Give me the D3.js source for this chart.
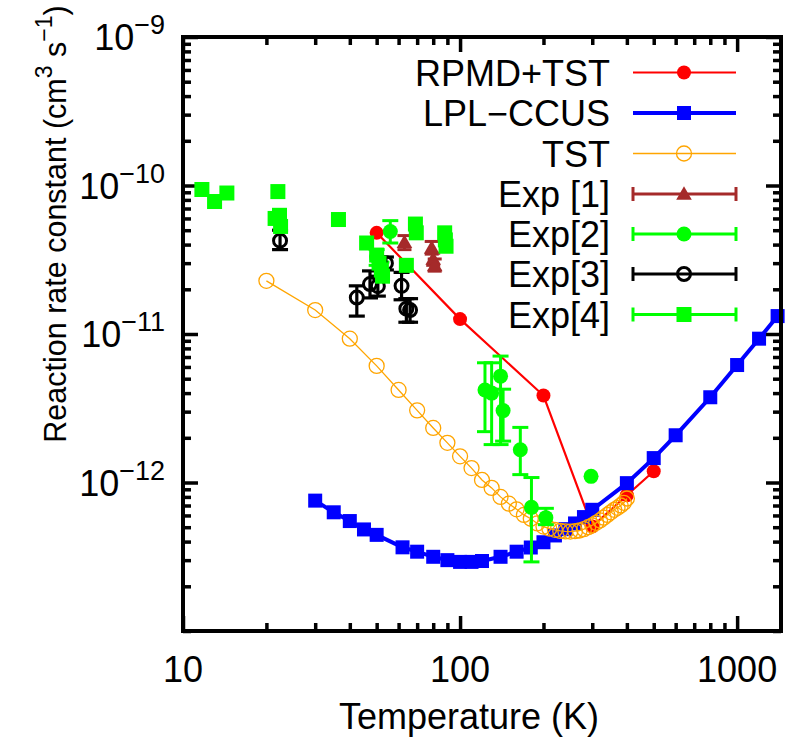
<!DOCTYPE html>
<html><head><meta charset="utf-8">
<script src="https://cdn.jsdelivr.net/npm/d3@7"></script>
<style>body{margin:0;background:#fff}</style>
</head><body><svg id="c" width="800" height="754"></svg>
<script>
// ---- data ----
const rpmdT=[50,100,200,300,400,500];
const rpmdK=[4.8e-11,1.26e-11,3.85e-12,5.05e-13,8.2e-13,1.19e-12];

const lplT=[30,35,40,45,50,62,70,80,90,100,110,120,140,160,180,200,220,240,260,280,300,400,500,600,800,1000,1200,1400];
const lplK=[7.55e-13,6.3e-13,5.5e-13,4.83e-13,4.44e-13,3.66e-13,3.42e-13,3.16e-13,3.0e-13,2.92e-13,2.92e-13,2.96e-13,3.16e-13,3.42e-13,3.65e-13,3.96e-13,4.4e-13,4.85e-13,5.3e-13,5.85e-13,6.55e-13,9.9e-13,1.46e-12,2.08e-12,3.75e-12,6.18e-12,9.3e-12,1.32e-11];

const tstT=[20,30,40,50,60,70,80,90,100,110,120,130,140,150,160,170,180,190,200,210,220,230,240,250,260,270,280,290,300,310,320,330,340,350,360,370,380,390,400];
const tstK=[2.28e-11,1.45e-11,9.3e-12,6.1e-12,4.2e-12,3.06e-12,2.33e-12,1.85e-12,1.5e-12,1.25e-12,1.04e-12,9.2e-13,8.0e-13,7.2e-13,6.6e-13,6.05e-13,5.7e-13,5.3e-13,5.05e-13,4.9e-13,4.8e-13,4.72e-13,4.68e-13,4.67e-13,4.7e-13,4.75e-13,4.85e-13,5.0e-13,5.15e-13,5.35e-13,5.55e-13,5.8e-13,6.05e-13,6.3e-13,6.55e-13,6.75e-13,7.0e-13,7.3e-13,7.8e-13];

const exp1T=[63,79,80,81];
const exp1K=[4.15e-11,3.8e-11,3.2e-11,2.9e-11];
const exp1Lo=[3.7e-11,3.45e-11,2.9e-11,2.65e-11];
const exp1Hi=[4.6e-11,4.2e-11,3.5e-11,3.2e-11];

const exp2T=[56,50,52,123,130,140,143,165,181,204,297];
const exp2K=[4.9e-11,3.3e-11,2.7e-11,4.2e-12,4.0e-12,5.2e-12,3.05e-12,1.66e-12,6.8e-13,5.8e-13,1.1e-12];
const exp2Lo=[4.1e-11,2.9e-11,2.35e-11,2.2e-12,1.8e-12,1.8e-12,1.9e-12,1.13e-12,2.92e-13,5.2e-13,1.1e-12];
const exp2Hi=[5.8e-11,3.7e-11,3.05e-11,6.4e-12,6.4e-12,7.1e-12,4.25e-12,2.35e-12,1.08e-12,6.7e-13,1.1e-12];

const exp3T=[22.4,42.4,47.3,50.5,54,61.5,64,66];
const exp3K=[4.25e-11,1.76e-11,2.17e-11,2.1e-11,3.0e-11,2.11e-11,1.48e-11,1.45e-11];
const exp3Lo=[3.7e-11,1.32e-11,1.75e-11,1.8e-11,2.7e-11,1.7e-11,1.2e-11,1.2e-11];
const exp3Hi=[5.0e-11,2.11e-11,2.66e-11,2.45e-11,3.3e-11,2.6e-11,1.73e-11,1.73e-11];

const exp4T=[11.7,13,14.4,21.5,22,22.3,22.5,36.4,46,50,51,52,52.5,64,69,69.5,88,88.5,89];
const exp4K=[9.4e-11,7.8e-11,8.9e-11,6.0e-11,9.1e-11,6.3e-11,5.3e-11,5.9e-11,4.1e-11,3.4e-11,3.0e-11,2.7e-11,2.45e-11,2.9e-11,5.5e-11,4.8e-11,4.8e-11,4.3e-11,3.9e-11];

const legendLabels=["RPMD+TST","LPL\u2212CCUS","TST","Exp [1]","Exp[2]","Exp[3]","Exp[4]"];
const xTickVals=[10,100,1000];
const xTickLabels=["10","100","1000"];
const yTickVals=[1e-12,1e-11,1e-10,1e-9];
const yTickExps=["\u221212","\u221211","\u221210","\u22129"];

// ---- chart ----
const FONT='"Liberation Sans", Arial, Helvetica, sans-serif';
const FS=36, FSS=27;
const svg=d3.select("#c").style("font-family",FONT);
const L=183,R=781,T=37,B=631;
const x=d3.scaleLog().domain([10,1440]).range([L,R]);
const y=d3.scaleLog().domain([1e-13,1e-9]).range([B,T]);

const C={red:"#ff0000",blue:"#0000ff",orange:"#ffa500",brown:"#a52a2a",green:"#00ff00",black:"#000000"};

// ticks (inward, mirrored)
const xMinor=x.ticks().filter(v=>!xTickVals.includes(v) && v<=1440);
const yAll=y.ticks();
const yMinor=yAll.filter(v=>!yTickVals.some(t=>Math.abs(t-v)/v<1e-6));
function axis(gen,transform){
  const g=svg.append("g").attr("transform",transform).call(gen);
  g.select(".domain").remove();
  g.selectAll("line").attr("stroke","#000").attr("stroke-width",3.5);
  g.selectAll("text").remove();
}
axis(d3.axisBottom(x).tickValues(xTickVals).tickSize(-15),`translate(0,${B})`);
axis(d3.axisBottom(x).tickValues(xMinor).tickSize(-8),`translate(0,${B})`);
axis(d3.axisTop(x).tickValues(xTickVals).tickSize(-15),`translate(0,${T})`);
axis(d3.axisTop(x).tickValues(xMinor).tickSize(-8),`translate(0,${T})`);
axis(d3.axisLeft(y).tickValues(yTickVals).tickSize(-15),`translate(${L},0)`);
axis(d3.axisLeft(y).tickValues(yMinor).tickSize(-8),`translate(${L},0)`);
axis(d3.axisRight(y).tickValues(yTickVals).tickSize(-15),`translate(${R},0)`);
axis(d3.axisRight(y).tickValues(yMinor).tickSize(-8),`translate(${R},0)`);

// tick labels
svg.append("g").selectAll("text").data(xTickVals).join("text")
  .attr("x",d=>x(d)).attr("y",B+51).attr("text-anchor","middle")
  .attr("font-size",FS).text((d,i)=>xTickLabels[i]);
const yl=svg.append("g").selectAll("text").data(yTickVals).join("text")
  .attr("x",165).attr("y",d=>y(d)+13).attr("text-anchor","end").attr("font-size",FS);
yl.append("tspan").text("10");
yl.append("tspan").attr("font-size",FSS).attr("dy",-16).text((d,i)=>yTickExps[i]);

// axis titles
svg.append("text").attr("x",469).attr("y",729).attr("text-anchor","middle")
  .attr("font-size",FS).text("Temperature (K)");
const yt=svg.append("text").attr("transform","translate(66,224) rotate(-90)")
  .attr("text-anchor","middle").attr("font-size",30.5);
yt.append("tspan").text("Reaction rate constant (cm");
yt.append("tspan").attr("font-size",23).attr("dy",-14).text("3");
yt.append("tspan").attr("dy",14).text(" s");
yt.append("tspan").attr("font-size",23).attr("dy",-14).text("\u22121");
yt.append("tspan").attr("dy",14).text(")");

// plotting helpers
const plot=svg.append("g");
function line(Ts,Ks,color,w){
  plot.append("path").datum(Ts.map((t,i)=>[t,Ks[i]]))
    .attr("d",d3.line().x(d=>x(d[0])).y(d=>y(d[1])))
    .attr("fill","none").attr("stroke",color).attr("stroke-width",w);
}
function marker(g,type,cx,cy,color,s){
  if(type==="circle") g.append("circle").attr("cx",cx).attr("cy",cy).attr("r",s).attr("fill",color);
  else if(type==="ocircle") g.append("circle").attr("cx",cx).attr("cy",cy).attr("r",s.r).attr("fill","none").attr("stroke",color).attr("stroke-width",s.w);
  else if(type==="square") g.append("rect").attr("x",cx-s/2).attr("y",cy-s/2).attr("width",s).attr("height",s).attr("fill",color);
  else if(type==="tri") g.append("path").attr("d",`M${cx},${cy-s*0.6}L${cx+s*0.6},${cy+s*0.45}L${cx-s*0.6},${cy+s*0.45}Z`).attr("fill",color);
}
function errbars(Ts,Lo,Hi,color,w,cap){
  Ts.forEach((t,i)=>{
    if(Lo[i]===Hi[i]) return;
    const cx=x(t),y1=y(Lo[i]),y2=y(Hi[i]);
    plot.append("line").attr("x1",cx).attr("x2",cx).attr("y1",y1).attr("y2",y2).attr("stroke",color).attr("stroke-width",w);
    [y1,y2].forEach(yy=>plot.append("line").attr("x1",cx-cap).attr("x2",cx+cap).attr("y1",yy).attr("y2",yy).attr("stroke",color).attr("stroke-width",w));
  });
}

// RPMD+TST
line(rpmdT,rpmdK,C.red,2.2);
rpmdT.forEach((t,i)=>marker(plot,"circle",x(t),y(rpmdK[i]),C.red,7));
// LPL-CCUS
line(lplT,lplK,C.blue,4);
lplT.forEach((t,i)=>marker(plot,"square",x(t),y(lplK[i]),C.blue,14));
// TST
line(tstT,tstK,C.orange,1.3);
tstT.forEach((t,i)=>marker(plot,"ocircle",x(t),y(tstK[i]),C.orange,{r:7.5,w:1.3}));
// Exp[1]
errbars(exp1T,exp1Lo,exp1Hi,C.brown,3,7);
exp1T.forEach((t,i)=>marker(plot,"tri",x(t),y(exp1K[i]),C.brown,13));
// Exp[2]
errbars(exp2T,exp2Lo,exp2Hi,C.green,3,8);
exp2T.forEach((t,i)=>marker(plot,"circle",x(t),y(exp2K[i]),C.green,7.5));
// Exp[3]
errbars(exp3T,exp3Lo,exp3Hi,C.black,3.2,8);
exp3T.forEach((t,i)=>marker(plot,"ocircle",x(t),y(exp3K[i]),C.black,{r:6.5,w:3}));
// Exp[4]
exp4T.forEach((t,i)=>marker(plot,"square",x(t),y(exp4K[i]),C.green,15));

// frame
svg.append("rect").attr("x",L).attr("y",T).attr("width",R-L).attr("height",B-T)
  .attr("fill","none").attr("stroke","#000").attr("stroke-width",4);

// legend
const rows=[72.5,113,153.5,194,234,274,314.5];
const lg=svg.append("g");
const spec=[
  {c:C.red,w:2.2,m:"circle",s:7,eb:false},
  {c:C.blue,w:4,m:"square",s:14,eb:false},
  {c:C.orange,w:1.3,m:"ocircle",s:{r:7.5,w:1.3},eb:false},
  {c:C.brown,w:3,m:"tri",s:13,eb:true},
  {c:C.green,w:3,m:"circle",s:7.5,eb:true},
  {c:C.black,w:3,m:"ocircle",s:{r:6.5,w:3},eb:true},
  {c:C.green,w:3,m:"square",s:15,eb:true}
];
legendLabels.forEach((lab,i)=>{
  const yy=rows[i];
  lg.append("text").attr("x",610).attr("y",yy+13).attr("text-anchor","end").attr("font-size",FS).text(lab);
  const sp=spec[i];
  lg.append("line").attr("x1",633).attr("x2",736).attr("y1",yy).attr("y2",yy).attr("stroke",sp.c).attr("stroke-width",sp.w);
  if(sp.eb){
    [633,736].forEach(xx=>lg.append("line").attr("x1",xx).attr("x2",xx).attr("y1",yy-7).attr("y2",yy+7).attr("stroke",sp.c).attr("stroke-width",3));
  }
  marker(lg,sp.m,684,yy,sp.c,sp.s);
});
</script></body></html>
